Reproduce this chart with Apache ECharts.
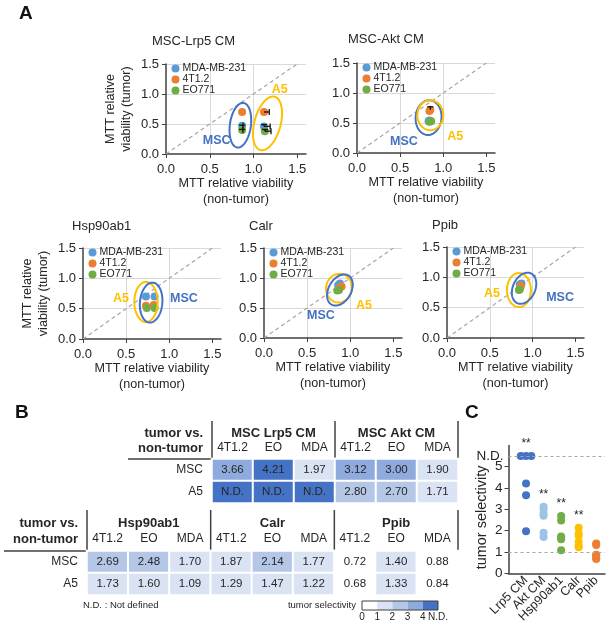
<!DOCTYPE html>
<html><head><meta charset="utf-8">
<script src="https://cdn.jsdelivr.net/npm/echarts@6.0.0/dist/echarts.min.js"></script>
<style>html,body{margin:0;padding:0;background:#fff}#c{width:609px;height:627px}</style>
</head><body><div id="c"></div>
<script>
// ---------------- DATA ----------------
const cellLines = ['MDA-MB-231', '4T1.2', 'EO771'];
const plotTitles = ['MSC-Lrp5 CM', 'MSC-Akt CM', 'Hsp90ab1', 'Calr', 'Ppib'];
const viabTicks = [0, 0.5, 1, 1.5];
// Panel A: [non-tumor viability, tumor viability]; first MSC, then A5
const mdaMB231 = [
  [[0.87, 0.47], [1.12, 0.46]],
  [[0.83, 0.53], [0.84, 0.54]],
  [[0.83, 0.70], [0.73, 0.70]],
  [[0.88, 0.91], [0.86, 0.88]],
  [[0.87, 0.90], [0.85, 0.88]]
];
const t4T12 = [
  [[0.87, 0.70], [1.12, 0.70]],
  [[0.84, 0.70], [0.85, 0.72]],
  [[0.82, 0.56], [0.73, 0.55]],
  [[0.90, 0.86], [0.88, 0.84]],
  [[0.86, 0.86], [0.86, 0.85]]
];
const eo771 = [
  [[0.87, 0.40], [1.13, 0.38]],
  [[0.84, 0.52], [0.86, 0.53]],
  [[0.83, 0.51], [0.74, 0.51]],
  [[0.87, 0.80], [0.85, 0.79]],
  [[0.85, 0.80], [0.84, 0.79]]
];
// error bars: [plot, cell line index, group (0 MSC, 1 A5), x error, y error]
const errorBars = [
  [0, 0, 1, 0.07, 0.03], [0, 1, 1, 0.06, 0], [0, 2, 1, 0.07, 0.03],
  [0, 0, 0, 0.01, 0.01], [0, 2, 0, 0.01, 0.01],
  [1, 1, 1, 0, 0.05]
];

// Panel B
const tableTopGroups = ['MSC Lrp5 CM', 'MSC Akt CM'];
const tableBottomGroups = ['Hsp90ab1', 'Calr', 'Ppib'];
const tableCols = ['4T1.2', 'EO', 'MDA'];
const tableRows = ['MSC', 'A5'];
const topMSC = ['3.66', '4.21', '1.97', '3.12', '3.00', '1.90'];
const topA5 = ['N.D.', 'N.D.', 'N.D.', '2.80', '2.70', '1.71'];
const bottomMSC = ['2.69', '2.48', '1.70', '1.87', '2.14', '1.77', '0.72', '1.40', '0.88'];
const bottomA5 = ['1.73', '1.60', '1.09', '1.29', '1.47', '1.22', '0.68', '1.33', '0.84'];
const ND_VALUE = 5;
const scaleBreaks = [0, 1, 2, 3, 4, 5];
const scaleColors = ['#FFFFFF', '#DAE3F3', '#B4C7E7', '#8FAADC', '#4472C4'];

// Panel C
const selCategories = ['Lrp5 CM', 'Akt CM', 'Hsp90ab1', 'Calr', 'Ppib'];
const selColors = ['#4472C4', '#9DC3E6', '#70AD47', '#FFC000', '#ED7D31'];
const selSignificance = ['**', '**', '**', '**', ''];
const ND_PLOT_C = 5.5;
const selTicks = [0, 1, 2, 3, 4, 5];

// ---------------- LAYOUT / STYLE ----------------
const FONT = '"Liberation Sans", Arial, sans-serif';
const TXT = '#262626';
const AXC = '#404040';
const lineColors = ['#5B9BD5', '#ED7D31', '#70AD47'];
const ANN = { blue: '#4472C4', gold: '#FFC000' };
const A_LAYOUT = [
  { left: 166, top: 64, width: 140, height: 90, title: [152, 35], yName: true },
  { left: 357, top: 63, width: 138, height: 90, title: [348, 33], yName: false },
  { left: 83, top: 248, width: 138, height: 91, title: [72, 220], yName: true },
  { left: 264, top: 248, width: 138, height: 90, title: [249, 220], yName: false },
  { left: 447, top: 247, width: 137, height: 91, title: [432, 219], yName: false }
];
const ellipses = [
  { p: 0, cx: 0.85, cy: 0.48, rx: 0.12, ry: 0.375, rot: 8, c: 'blue', text: 'MSC', tx: 0.58, ty: 0.23 },
  { p: 0, cx: 1.16, cy: 0.51, rx: 0.15, ry: 0.46, rot: 15, c: 'gold', text: 'A5', tx: 1.3, ty: 1.07 },
  { p: 1, cx: 0.83, cy: 0.59, rx: 0.15, ry: 0.29, rot: 5, c: 'blue', text: 'MSC', tx: 0.545, ty: 0.19 },
  { p: 1, cx: 0.85, cy: 0.63, rx: 0.15, ry: 0.25, rot: 0, c: 'gold', text: 'A5', tx: 1.14, ty: 0.27 },
  { p: 2, cx: 0.73, cy: 0.61, rx: 0.135, ry: 0.33, rot: 0, c: 'gold', text: 'A5', tx: 0.44, ty: 0.67 },
  { p: 2, cx: 0.79, cy: 0.60, rx: 0.13, ry: 0.33, rot: 5, c: 'blue', text: 'MSC', tx: 1.17, ty: 0.67 },
  { p: 3, cx: 0.87, cy: 0.83, rx: 0.15, ry: 0.24, rot: 10, c: 'gold', text: 'A5', tx: 1.16, ty: 0.54 },
  { p: 3, cx: 0.88, cy: 0.80, rx: 0.13, ry: 0.28, rot: 30, c: 'blue', text: 'MSC', tx: 0.66, ty: 0.37 },
  { p: 4, cx: 0.84, cy: 0.79, rx: 0.14, ry: 0.28, rot: 0, c: 'gold', text: 'A5', tx: 0.525, ty: 0.74 },
  { p: 4, cx: 0.90, cy: 0.82, rx: 0.13, ry: 0.27, rot: 25, c: 'blue', text: 'MSC', tx: 1.32, ty: 0.66 }
];
const TABLE_TOP = { left: 212, top: 459, width: 246, height: 44, ruleLeft: 128, ruleTop: 421, headY: 425.5, headX: 203, headLH: 15, groupTop: 440, colMargin: 5 };
const TABLE_BOTTOM = { left: 87, top: 551, width: 371, height: 44, ruleLeft: 4, ruleTop: 510, headY: 515, headX: 78, headLH: 16, groupTop: 530, colMargin: 6 };
const CBAR = { left: 362, top: 601, width: 76, height: 9 };
const C_GRID = { left: 508.5, top: 445.4, width: 96.5, height: 128 };
const C_XMAX = 5.5;

// ---------------- BUILD ----------------
const pointsByLine = [mdaMB231, t4T12, eo771];
const grids = [], xAxes = [], yAxes = [], series = [], titles = [], legends = [];
const fmt1 = v => (v > 1.55 ? '' : v.toFixed(1));

function addGrid(g) { grids.push(Object.assign({ containLabel: false, outerBoundsMode: 'none' }, g)); return grids.length - 1; }

function ellipseRender(list) {
  return function (params, api) {
    const e = list[params.dataIndex];
    const c = api.coord([e.cx, e.cy]);
    const s = api.size([e.rx, e.ry]);
    const th = e.rot * Math.PI / 180;
    const pts = [];
    for (let k = 0; k < 80; k++) {
      const t = k / 80 * Math.PI * 2;
      const x = s[0] * Math.cos(t), y = s[1] * Math.sin(t);
      pts.push([c[0] + x * Math.cos(th) - y * Math.sin(th), c[1] + x * Math.sin(th) + y * Math.cos(th)]);
    }
    const lp = api.coord([e.tx, e.ty]);
    const col = ANN[e.c];
    return { type: 'group', children: [
      { type: 'polygon', shape: { points: pts }, style: { fill: 'none', stroke: col, lineWidth: 2 } },
      { type: 'text', style: { text: e.text, x: lp[0], y: lp[1], align: 'center', verticalAlign: 'middle', fill: col, font: 'bold 12.5px ' + FONT } }
    ] };
  };
}
function errorRender(list) {
  return function (params, api) {
    const e = list[params.dataIndex];
    const p = api.coord([e.x, e.y]);
    const st = { stroke: '#111', lineWidth: 1.3 };
    const ch = [];
    if (e.xe) {
      const q = api.coord([e.x + e.xe, e.y]);
      ch.push({ type: 'line', shape: { x1: p[0], y1: p[1], x2: q[0], y2: q[1] }, style: st });
      ch.push({ type: 'line', shape: { x1: q[0], y1: q[1] - 3, x2: q[0], y2: q[1] + 3 }, style: st });
    }
    if (e.ye) {
      const q = api.coord([e.x, e.y + e.ye]);
      ch.push({ type: 'line', shape: { x1: p[0], y1: p[1], x2: q[0], y2: q[1] }, style: st });
      ch.push({ type: 'line', shape: { x1: q[0] - 3, y1: q[1], x2: q[0] + 3, y2: q[1] }, style: st });
    }
    return { type: 'group', children: ch };
  };
}

// Panel A
A_LAYOUT.forEach((L, p) => {
  const gi = addGrid({ left: L.left, top: L.top, width: L.width, height: L.height });
  titles.push({ text: plotTitles[p], left: L.title[0], top: L.title[1], padding: 0,
    textStyle: { fontSize: 13, fontWeight: 'normal', color: TXT, fontFamily: FONT } });
  legends.push({ data: cellLines, left: L.left + 5.5, top: L.top - 1, orient: 'vertical', icon: 'circle',
    itemWidth: 8, itemHeight: 8, itemGap: 0, padding: 0, selectedMode: false,
    textStyle: { fontSize: 10.5, lineHeight: 10, color: TXT, fontFamily: FONT, padding: [0, 0, 0, -2] } });
  xAxes.push({ gridIndex: gi, type: 'value', min: 0, max: 1.6, interval: 0.5,
    axisLine: { show: true, onZero: false, lineStyle: { color: AXC, width: 1.5 } },
    axisTick: { show: true, length: 4, customValues: viabTicks, lineStyle: { color: AXC, width: 1 } },
    axisLabel: { show: true, customValues: viabTicks, formatter: fmt1, fontSize: 13, color: TXT, margin: 9, fontFamily: FONT },
    splitLine: { show: true, showMinLine: false, showMaxLine: false, lineStyle: { color: '#D9D9D9', width: 1 } },
    name: 'MTT relative viability\n(non-tumor)', nameLocation: 'middle', nameGap: 22, nameMoveOverlap: false,
    nameTextStyle: { fontSize: 12.6, lineHeight: 16, color: TXT, fontFamily: FONT } });
  const ya = { gridIndex: gi, type: 'value', min: 0, max: 1.5, interval: 0.5,
    axisLine: { show: true, onZero: false, lineStyle: { color: AXC, width: 1.5 } },
    axisTick: { show: true, length: 4, lineStyle: { color: AXC, width: 1 } },
    axisLabel: { show: true, formatter: fmt1, fontSize: 13, color: TXT, margin: 7, fontFamily: FONT },
    splitLine: { show: true, showMinLine: false, showMaxLine: true, lineStyle: { color: '#D9D9D9', width: 1 } } };
  if (L.yName) Object.assign(ya, { name: 'MTT relative\nviability (tumor)', nameLocation: 'middle', nameGap: 31, nameRotate: 90,
    nameMoveOverlap: false, nameTextStyle: { fontSize: 12.6, lineHeight: 16, color: TXT, fontFamily: FONT } });
  yAxes.push(ya);
  series.push({ type: 'line', name: 'identity', xAxisIndex: gi, yAxisIndex: gi, data: [[0, 0], [1.5, 1.5]], symbol: 'none',
    silent: true, z: 1, lineStyle: { color: '#A6A6A6', width: 1.2, type: [4, 3] } });
  cellLines.forEach((name, li) => {
    series.push({ type: 'scatter', name, xAxisIndex: gi, yAxisIndex: gi, data: pointsByLine[li][p], symbolSize: 8,
      itemStyle: { color: lineColors[li], opacity: 1 }, z: 3 });
  });
  const errs = errorBars.filter(e => e[0] === p).map(e => {
    const pt = pointsByLine[e[1]][p][e[2]];
    return { x: pt[0], y: pt[1], xe: e[3], ye: e[4] };
  });
  if (errs.length) series.push({ type: 'custom', name: 'err', xAxisIndex: gi, yAxisIndex: gi, silent: true, z: 4, clip: false,
    data: errs.map(e => [e.x, e.y]), renderItem: errorRender(errs) });
  const ells = ellipses.filter(e => e.p === p);
  series.push({ type: 'custom', name: 'ann', xAxisIndex: gi, yAxisIndex: gi, silent: true, z: 5, clip: false,
    data: ells.map(e => [e.cx, e.cy]), renderItem: ellipseRender(ells) });
});

// Panel B tables
const heatIdx = [];
function addTable(T, groups, msc, a5) {
  const gi = addGrid({ left: T.left, top: T.top, width: T.width, height: T.height });
  const cols = [];
  groups.forEach(() => tableCols.forEach(c => cols.push(c)));
  xAxes.push({ gridIndex: gi, type: 'category', data: cols, position: 'top',
    axisLine: { show: false }, axisTick: { show: false }, splitLine: { show: false },
    axisLabel: { interval: 0, fontSize: 12, color: TXT, margin: T.colMargin, fontFamily: FONT } });
  yAxes.push({ gridIndex: gi, type: 'category', data: tableRows, inverse: true,
    axisLine: { show: false }, axisTick: { show: false }, splitLine: { show: false },
    axisLabel: { fontSize: 12, color: TXT, margin: 9, fontFamily: FONT } });
  const data = [];
  [msc, a5].forEach((row, r) => row.forEach((t, c) => {
    data.push([c, r, t === 'N.D.' ? ND_VALUE : parseFloat(t), t]);
  }));
  heatIdx.push(series.length);
  series.push({ type: 'heatmap', xAxisIndex: gi, yAxisIndex: gi, data, silent: true,
    itemStyle: { borderColor: '#fff', borderWidth: 2 },
    label: { show: true, formatter: q => q.data[3], fontSize: 11.5, color: TXT, fontFamily: FONT },
    emphasis: { disabled: true } });
  // group header row
  const hg = addGrid({ left: T.left, top: T.groupTop, width: T.width, height: 1 });
  xAxes.push({ gridIndex: hg, type: 'category', data: groups, position: 'top',
    axisLine: { show: false }, axisTick: { show: false }, splitLine: { show: false },
    axisLabel: { interval: 0, fontSize: 13, fontWeight: 'bold', color: TXT, margin: 0, fontFamily: FONT } });
  yAxes.push({ gridIndex: hg, type: 'value', show: false });
}
addTable(TABLE_TOP, tableTopGroups, topMSC, topA5);
addTable(TABLE_BOTTOM, tableBottomGroups, bottomMSC, bottomA5);

// color bar
const cb = addGrid({ left: CBAR.left, top: CBAR.top, width: CBAR.width, height: CBAR.height });
xAxes.push({ gridIndex: cb, type: 'value', min: scaleBreaks[0], max: scaleBreaks[scaleBreaks.length - 1], interval: 1,
  axisLine: { show: false }, axisTick: { show: false }, splitLine: { show: false },
  axisLabel: { formatter: v => (v === ND_VALUE ? 'N.D.' : String(v)), showMinLabel: true, showMaxLabel: true, fontSize: 10, color: TXT, margin: 2, fontFamily: FONT } });
yAxes.push({ gridIndex: cb, type: 'value', min: 0, max: 1, show: false });
const cbIdx = series.length;
series.push({ type: 'custom', xAxisIndex: cb, yAxisIndex: cb, silent: true,
  data: scaleColors.map((c, i) => [scaleBreaks[i], 0, (scaleBreaks[i] + scaleBreaks[i + 1]) / 2]),
  renderItem: (params, api) => {
    const x0 = api.value(0);
    const a = api.coord([x0, 1]), b = api.coord([x0 + 1, 0]);
    return { type: 'rect', shape: { x: a[0], y: a[1], width: b[0] - a[0], height: b[1] - a[1] }, style: { fill: api.visual('color') } };
  } });
series.push({ type: 'custom', xAxisIndex: cb, yAxisIndex: cb, silent: true, z: 3, data: [[0, 0]],
  renderItem: (params, api) => {
    const a = api.coord([scaleBreaks[0], 1]), b = api.coord([scaleBreaks[scaleBreaks.length - 1], 0]);
    return { type: 'rect', shape: { x: a[0], y: a[1], width: b[0] - a[0], height: b[1] - a[1] }, style: { fill: 'none', stroke: AXC, lineWidth: 1 } };
  } });

// Panel C
const cg = addGrid({ left: C_GRID.left, top: C_GRID.top, width: C_GRID.width, height: C_GRID.height });
xAxes.push({ gridIndex: cg, type: 'value', min: 0, max: C_XMAX, interval: 1,
  axisLine: { show: true, onZero: false, lineStyle: { color: AXC, width: 1.5 } }, axisTick: { show: false }, splitLine: { show: false },
  axisLabel: { show: false } });
yAxes.push({ gridIndex: cg, type: 'value', min: 0, max: 6, interval: 1,
  axisLine: { show: true, onZero: false, lineStyle: { color: AXC, width: 1.5 } },
  axisTick: { show: true, length: 4, customValues: selTicks, lineStyle: { color: AXC, width: 1 } },
  splitLine: { show: false },
  axisLabel: { customValues: selTicks, formatter: v => (v <= 5 ? String(v) : ''), showMinLabel: true, showMaxLabel: true,
    fontSize: 13.5, color: TXT, margin: 6, fontFamily: FONT },
  name: 'tumor selectivity', nameLocation: 'middle', nameGap: 19, nameRotate: 90, nameMoveOverlap: false,
  nameTextStyle: { fontSize: 14.5, color: TXT, fontFamily: FONT, padding: [0, 16, 0, 0] } });
// category label strip aligned with the value positions 1..5 of the panel C x axis
const unitC = C_GRID.width / C_XMAX;
const cl = addGrid({ left: C_GRID.left + unitC * 0.5, top: C_GRID.top, width: unitC * selCategories.length, height: C_GRID.height });
xAxes.push({ gridIndex: cl, type: 'category', data: selCategories, boundaryGap: true,
  axisLine: { show: false }, axisTick: { show: false }, splitLine: { show: false },
  axisLabel: { interval: 0, rotate: 45, fontSize: 12.5, color: TXT, margin: 5, fontFamily: FONT } });
yAxes.push({ gridIndex: cl, type: 'value', show: false });

const selGroups = [
  topMSC.slice(0, 3).concat(topA5.slice(0, 3)),
  topMSC.slice(3, 6).concat(topA5.slice(3, 6)),
  bottomMSC.slice(0, 3).concat(bottomA5.slice(0, 3)),
  bottomMSC.slice(3, 6).concat(bottomA5.slice(3, 6)),
  bottomMSC.slice(6, 9).concat(bottomA5.slice(6, 9))
];
selGroups.forEach((grp, ci) => {
  const vals = grp.map(t => (t === 'N.D.' ? ND_PLOT_C : parseFloat(t)));
  const counts = {}, seen = {};
  vals.forEach(v => { counts[v] = (counts[v] || 0) + 1; });
  const maxV = Math.max.apply(null, vals);
  const data = vals.map(v => {
    const k = seen[v] = (seen[v] || 0) + 1;
    const off = (k - 1 - (counts[v] - 1) / 2) * 0.3;
    const item = { value: [ci + 1 + off, v] };
    if (v === maxV && Math.abs(off) < 1e-9 && selSignificance[ci]) {
      item.label = { show: true, position: 'top', distance: 2, formatter: selSignificance[ci], fontSize: 12, color: TXT, fontFamily: FONT };
    }
    return item;
  });
  const s = { type: 'scatter', name: selCategories[ci], xAxisIndex: cg, yAxisIndex: cg, data, symbolSize: 8,
    itemStyle: { color: selColors[ci], opacity: 1 }, z: 3 };
  if (ci === 0) s.markLine = { silent: true, symbol: 'none', animation: false,
    lineStyle: { type: [3, 3], color: '#A6A6A6', width: 1 },
    data: [{ yAxis: 1, label: { show: false } },
           { yAxis: ND_PLOT_C, label: { show: true, position: 'start', formatter: 'N.D.', fontSize: 13.5, color: TXT, fontFamily: FONT, distance: 5 } }] };
  series.push(s);
});

// panel letters
[['A', 19, 4], ['B', 15, 403], ['C', 465, 403]].forEach(l => titles.push({ text: l[0], left: l[1], top: l[2], padding: 0,
  textStyle: { fontSize: 19, fontWeight: 'bold', color: '#111', fontFamily: FONT } }));

// table rules and texts
const graphic = [];
const rule = (x1, y1, x2, y2) => graphic.push({ type: 'line', silent: true, shape: { x1, y1, x2, y2 }, style: { stroke: AXC, lineWidth: 1.5 } });
[[TABLE_TOP, tableTopGroups.length], [TABLE_BOTTOM, tableBottomGroups.length]].forEach(([T, n], ti) => {
  rule(T.ruleLeft, T.top, T.left + T.width, T.top);
  for (let k = 0; k <= n; k++) {
    const x = T.left + k * T.width / n;
    rule(x, T.ruleTop, x, T.top + T.height + ti);
  }
  graphic.push({ type: 'text', silent: true, style: { text: 'tumor vs.\nnon-tumor', x: T.headX, y: T.headY, align: 'right', verticalAlign: 'top',
    lineHeight: T.headLH, fill: TXT, font: 'bold 13px ' + FONT } });
});
graphic.push({ type: 'text', silent: true, style: { text: 'N.D. : Not defined', x: 83, y: 605, align: 'left', verticalAlign: 'middle', fill: TXT, font: '9.5px ' + FONT } });
graphic.push({ type: 'text', silent: true, style: { text: 'tumor selectivity', x: 356, y: 605, align: 'right', verticalAlign: 'middle', fill: TXT, font: '9.5px ' + FONT } });

const pieces = scaleColors.map((c, i) => (i === scaleColors.length - 1
  ? { gte: scaleBreaks[i], lte: scaleBreaks[i + 1], color: c }
  : { gte: scaleBreaks[i], lt: scaleBreaks[i + 1], color: c }));

const chart = echarts.init(document.getElementById('c'), null, { renderer: 'canvas', width: 609, height: 627 });
chart.setOption({
  animation: false,
  backgroundColor: '#fff',
  textStyle: { fontFamily: FONT },
  title: titles,
  legend: legends,
  grid: grids,
  xAxis: xAxes,
  yAxis: yAxes,
  visualMap: [{ type: 'piecewise', show: false, dimension: 2, seriesIndex: heatIdx.concat([cbIdx]), pieces }],
  graphic,
  series
});
</script></body></html>
